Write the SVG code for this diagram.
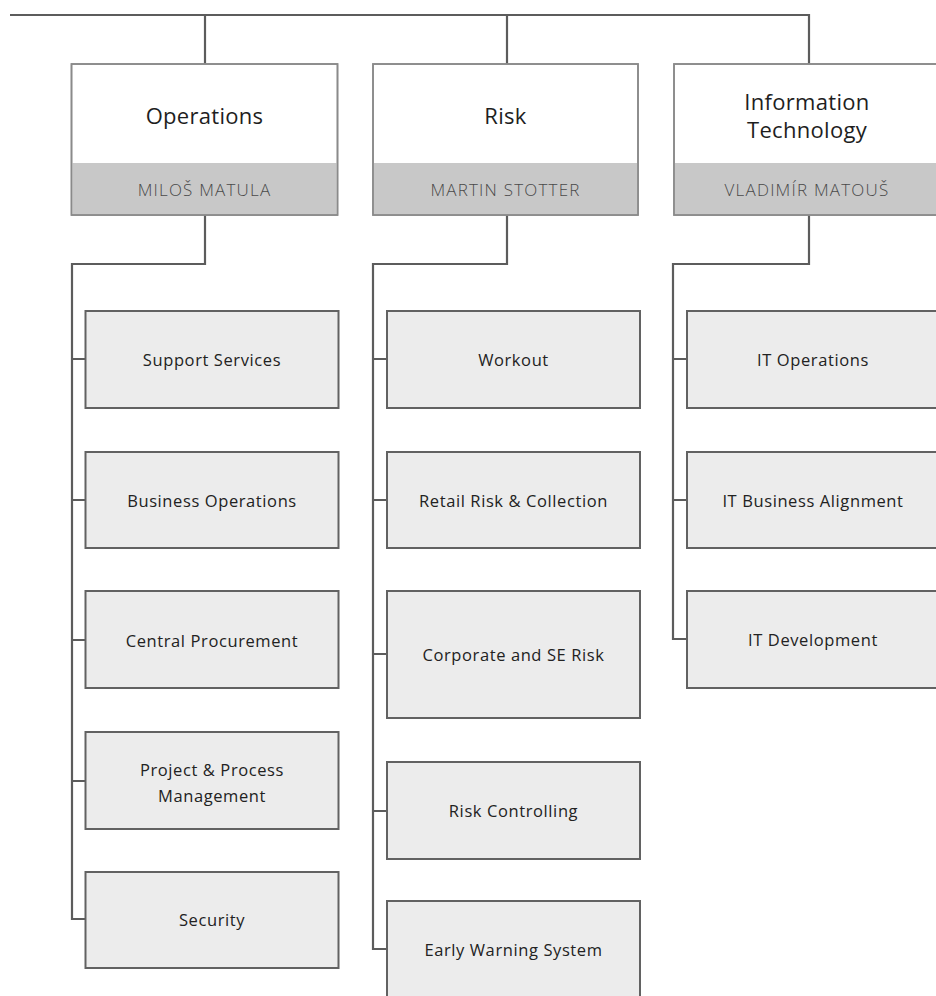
<svg xmlns="http://www.w3.org/2000/svg" width="936" height="996" viewBox="0 0 936 996">
  <style>
    .wire { fill: none; stroke: #5c5c5c; stroke-width: 2.2; }
    .head { fill: #ffffff; stroke: #8a8a8a; stroke-width: 1.6; }
    .band { fill: #c8c8c8; }
    .unit { fill: #ececec; stroke: #626262; stroke-width: 2; }
    .title { font-family: "Open Sans", "Liberation Sans", sans-serif; font-size: 22px; letter-spacing: 0.3px; fill: #1e1e1e; text-anchor: middle; }
    .name { font-family: "Open Sans", "Liberation Sans", sans-serif; font-size: 17px; font-weight: 300; letter-spacing: 1.2px; fill: #4a4a4a; text-anchor: middle; }
    .label { font-family: "Open Sans", "Liberation Sans", sans-serif; font-size: 16.5px; letter-spacing: 0.6px; fill: #222222; text-anchor: middle; }
  </style>
  <rect width="936" height="996" fill="#ffffff"/>

  <g id="connectors">
    <!-- top bus feeding the three divisions -->
    <path class="wire" d="M10 15 H809 V64"/>
    <path class="wire" d="M205 15 V64"/>
    <path class="wire" d="M507 15 V64"/>
    <!-- Operations spine -->
    <path class="wire" d="M205 215 V264 H72 V919 H86"/>
    <path class="wire" d="M72 359 H86 M72 500 H86 M72 640 H86 M72 781 H86"/>
    <!-- Risk spine -->
    <path class="wire" d="M507 215 V264 H373 V949 H387"/>
    <path class="wire" d="M373 359 H387 M373 500 H387 M373 654 H387 M373 811 H387"/>
    <!-- IT spine -->
    <path class="wire" d="M809 215 V264 H673 V639 H687"/>
    <path class="wire" d="M673 359 H687 M673 500 H687"/>
  </g>

  <g id="operations">
    <rect class="head" x="71.5" y="64" width="266" height="151"/>
    <rect class="band" x="72.3" y="163" width="264.4" height="51.2"/>
    <rect x="71.5" y="64" width="266" height="151" fill="none" stroke="#8a8a8a" stroke-width="1.6"/>
    <text class="title" x="204.5" y="124">Operations</text>
    <text class="name" x="204.5" y="196">MILOŠ MATULA</text>
  </g>
  <g id="risk">
    <rect class="head" x="373" y="64" width="265" height="151"/>
    <rect class="band" x="373.8" y="163" width="263.4" height="51.2"/>
    <rect x="373" y="64" width="265" height="151" fill="none" stroke="#8a8a8a" stroke-width="1.6"/>
    <text class="title" x="505.5" y="124">Risk</text>
    <text class="name" x="505.5" y="196">MARTIN STOTTER</text>
  </g>
  <g id="it">
    <rect class="head" x="674" y="64" width="266" height="151"/>
    <rect class="band" x="674.8" y="163" width="264.4" height="51.2"/>
    <rect x="674" y="64" width="266" height="151" fill="none" stroke="#8a8a8a" stroke-width="1.6"/>
    <text class="title" x="807" y="110">Information</text>
    <text class="title" x="807" y="138">Technology</text>
    <text class="name" x="807" y="196">VLADIMÍR MATOUŠ</text>
  </g>

  <!-- Operations units -->
  <g id="support-services">
    <rect class="unit" x="85.5" y="311" width="253" height="97"/>
    <text class="label" x="212" y="366">Support Services</text>
  </g>
  <g id="business-operations">
    <rect class="unit" x="85.5" y="452" width="253" height="96"/>
    <text class="label" x="212" y="507">Business Operations</text>
  </g>
  <g id="central-procurement">
    <rect class="unit" x="85.5" y="591" width="253" height="97"/>
    <text class="label" x="212" y="647">Central Procurement</text>
  </g>
  <g id="project-process-management">
    <rect class="unit" x="85.5" y="732" width="253" height="97"/>
    <text class="label" x="212" y="776">Project &amp; Process</text>
    <text class="label" x="212" y="802">Management</text>
  </g>
  <g id="security">
    <rect class="unit" x="85.5" y="872" width="253" height="96"/>
    <text class="label" x="212" y="926">Security</text>
  </g>

  <!-- Risk units -->
  <g id="workout">
    <rect class="unit" x="387" y="311" width="253" height="97"/>
    <text class="label" x="513.5" y="366">Workout</text>
  </g>
  <g id="retail-risk">
    <rect class="unit" x="387" y="452" width="253" height="96"/>
    <text class="label" x="513.5" y="507">Retail Risk &amp; Collection</text>
  </g>
  <g id="corporate-se-risk">
    <rect class="unit" x="387" y="591" width="253" height="127"/>
    <text class="label" x="513.5" y="661">Corporate and SE Risk</text>
  </g>
  <g id="risk-controlling">
    <rect class="unit" x="387" y="762" width="253" height="97"/>
    <text class="label" x="513.5" y="817">Risk Controlling</text>
  </g>
  <g id="early-warning">
    <rect class="unit" x="387" y="901" width="253" height="100"/>
    <text class="label" x="513.5" y="956">Early Warning System</text>
  </g>

  <!-- IT units -->
  <g id="it-operations">
    <rect class="unit" x="687" y="311" width="253" height="97"/>
    <text class="label" x="813" y="366">IT Operations</text>
  </g>
  <g id="it-business-alignment">
    <rect class="unit" x="687" y="452" width="253" height="96"/>
    <text class="label" x="813" y="507">IT Business Alignment</text>
  </g>
  <g id="it-development">
    <rect class="unit" x="687" y="591" width="253" height="97"/>
    <text class="label" x="813" y="646">IT Development</text>
  </g>
</svg>
